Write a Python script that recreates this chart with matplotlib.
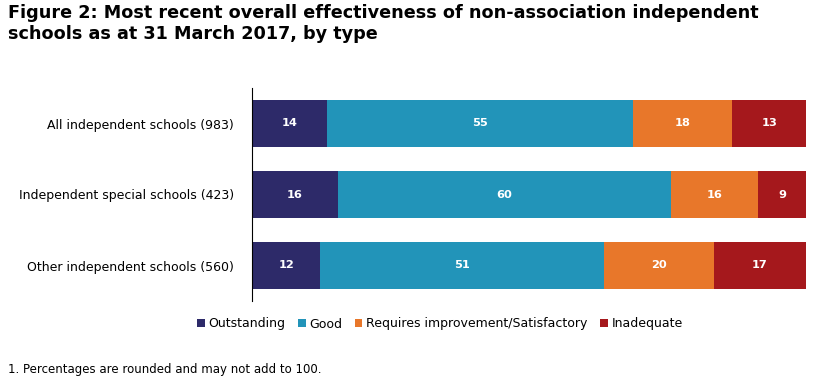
import matplotlib.pyplot as plt
import numpy as np

# data (percent, unrounded estimates from bar widths)
school_types = ["All independent schools (983)",
                "Independent special schools (423)",
                "Other independent schools (560)"]
outstanding = [13.6, 15.5, 12.3]
good = [55.1, 60.1, 51.3]
requires_improvement = [18.0, 15.7, 19.8]
inadequate = [13.3, 8.7, 16.6]
# rounded figures printed on the bars
outstanding_lbl = [14, 16, 12]
good_lbl = [55, 60, 51]
requires_lbl = [18, 16, 20]
inadequate_lbl = [13, 9, 17]

series = [
    ("Outstanding", outstanding, outstanding_lbl, "#2d2a69"),
    ("Good", good, good_lbl, "#2294b9"),
    ("Requires improvement/Satisfactory", requires_improvement, requires_lbl, "#e8772a"),
    ("Inadequate", inadequate, inadequate_lbl, "#a5181c"),
]

plt.rcParams['font.family'] = 'DejaVu Sans'

fig = plt.figure(figsize=(8.15, 3.89), dpi=100)
ax = fig.add_axes([252 / 815, 1 - 301 / 389, 554 / 815, 213 / 389])

y = np.arange(len(school_types))
left = np.zeros(len(school_types))
for name, vals, lbls, col in series:
    bars = ax.barh(y, vals, left=left, height=0.66, color=col, label=name)
    for b, lab in zip(bars, lbls):
        ax.text(b.get_x() + b.get_width() / 2, b.get_y() + b.get_height() / 2,
                str(lab), ha='center', va='center', color='white',
                fontsize=8.2, fontweight='bold')
    left += np.array(vals)

ax.set_xlim(0, left.max())
ax.set_ylim(len(school_types) - 0.5, -0.5)
ax.set_yticks(y)
ax.set_yticklabels(school_types, fontsize=9.0)
ax.tick_params(axis='y', length=0, pad=13)
ax.set_xticks([])
for s in ['top', 'right', 'bottom']:
    ax.spines[s].set_visible(False)
ax.spines['left'].set_linewidth(0.8)

fig.legend(loc='center', bbox_to_anchor=(440 / 815, 1 - 324 / 389), ncol=4,
           frameon=False, fontsize=9.0, handlelength=0.6, handleheight=0.6,
           handletextpad=0.3, columnspacing=1.0)

fig.text(8 / 815, 1 - 4 / 389,
         "Figure 2: Most recent overall effectiveness of non-association independent\n"
         "schools as at 31 March 2017, by type",
         ha='left', va='top', fontsize=12.7, fontweight='bold', linespacing=1.2)
fig.text(8 / 815, 1 - 369 / 389, "1. Percentages are rounded and may not add to 100.",
         ha='left', va='center', fontsize=8.5)

fig.savefig("out.png", dpi=100)
